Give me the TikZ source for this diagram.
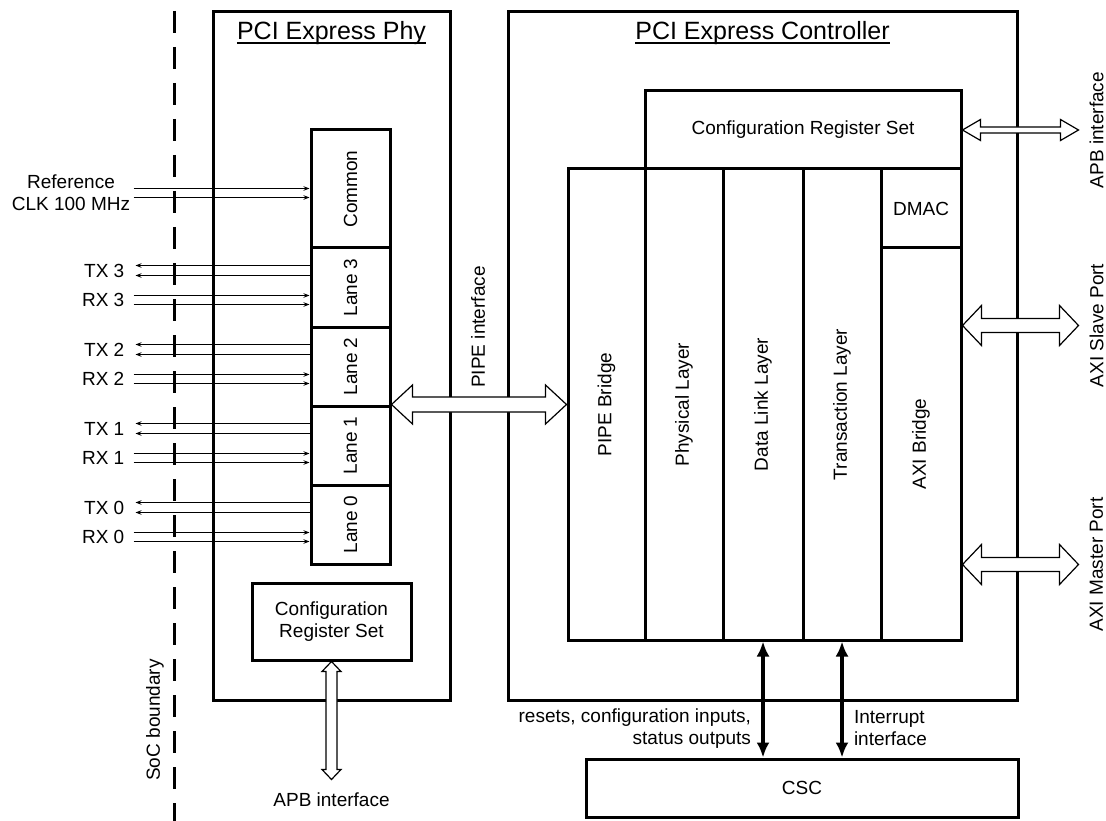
\documentclass[tikz,border=0pt]{standalone}
\usepackage{fontspec}
\setmainfont{Liberation Sans}
\usetikzlibrary{arrows.meta,calc}

\tikzset{
  box/.style={draw, line width=3pt, inner sep=0pt, align=center},
  sig/.style={line width=1.2pt, -{Stealth[length=6pt,width=4.5pt]}},
  sname/.style={anchor=east, inner sep=0pt},
  bus/.style={line width=4pt, {Latex[length=15pt,width=13pt]}-{Latex[length=15pt,width=13pt]}},
  hollow/.style={draw, line width=1.2pt, fill=white},
  ttl/.style={inner sep=0pt, anchor=base, font=\fontsize{25}{30}\selectfont},
  soc/.style={line width=3pt, dash pattern=on 22pt off 14pt, dash phase=25pt},
}

% hollow double arrows: start, end, half shaft, half head, head length
\newcommand\hollowh[5]{%
  \draw[hollow] (#1) -- ($(#1)+(#5,-#4)$) -- ($(#1)+(#5,-#3)$) -- ($(#2)+(-#5,-#3)$)
    -- ($(#2)+(-#5,-#4)$) -- (#2) -- ($(#2)+(-#5,#4)$) -- ($(#2)+(-#5,#3)$)
    -- ($(#1)+(#5,#3)$) -- ($(#1)+(#5,#4)$) -- cycle;}
\newcommand\hollowv[5]{%
  \draw[hollow] (#1) -- ($(#1)+(#4,#5)$) -- ($(#1)+(#3,#5)$) -- ($(#2)+(#3,-#5)$)
    -- ($(#2)+(#4,-#5)$) -- (#2) -- ($(#2)+(-#4,-#5)$) -- ($(#2)+(-#3,-#5)$)
    -- ($(#1)+(-#3,#5)$) -- ($(#1)+(-#4,#5)$) -- cycle;}

\begin{document}
\begin{tikzpicture}[x=1pt, y=-1pt, font=\fontsize{19}{22}\selectfont]
\useasboundingbox (0,0) rectangle (1106,821);

% SoC boundary
\draw[soc] (174,0) -- (174,821);
\node[rotate=90] (soclbl) at (155,720) {SoC boundary};

% PCI Express Phy
\node[box, minimum width=237, minimum height=688] (phy) at (331.5,356) {};
\node[ttl] (phyttl) at (331.5,40) {PCI Express Phy};
\draw[line width=1.5pt] ([yshift=-3pt]phyttl.base west) -- ([yshift=-3pt]phyttl.base east);

\node[box, minimum width=79, minimum height=118] (common) at (350.5,189) {\rotatebox{90}{Common}};
\foreach \n/\y in {3/287.5, 2/366.5, 1/445.5, 0/524.5}
  \node[box, minimum width=79, minimum height=79] (lane\n) at (350.5,\y) {\rotatebox{90}{Lane \n}};

\node[box, minimum width=159, minimum height=77] (phycfg) at (331.5,621.5) {Configuration\\Register Set};

% PCI Express Controller
\node[box, minimum width=509, minimum height=688] (ctrl) at (762.5,356) {};
\node[ttl] (ctrlttl) at (762.5,40) {PCI Express Controller};
\draw[line width=1.5pt] ([yshift=-3pt]ctrlttl.base west) -- ([yshift=-3pt]ctrlttl.base east);

\node[box, minimum width=316, minimum height=78] (ccfg) at (803,130) {Configuration Register Set};
\node[box, minimum width=77, minimum height=471] (pipe) at (606.5,404.5) {\rotatebox{90}{PIPE Bridge}};
\node[box, minimum width=78, minimum height=471] (phys) at (684,404.5) {\rotatebox{90}{Physical Layer}};
\node[box, minimum width=80, minimum height=471] (dll) at (763,404.5) {\rotatebox{90}{Data Link Layer}};
\node[box, minimum width=78, minimum height=471] (trans) at (842,404.5) {\rotatebox{90}{Transaction Layer}};
\node[box, minimum width=80, minimum height=79] (dmac) at (921,208.5) {DMAC};
\node[box, minimum width=80, minimum height=392] (axi) at (921,444) {\rotatebox{90}{AXI Bridge}};

% CSC
\node[box, minimum width=432, minimum height=58] (csc) at (802,788) {CSC};

% lane signals
\draw[sig] ($(common.north west)+(-176,60)$) -- ++(176,0);
\draw[sig] ($(common.north west)+(-176,69)$) -- ++(176,0);
\node[align=center, inner sep=0pt] (reflbl) at (71,193) {Reference\\CLK 100 MHz};
\foreach \n in {0,...,3}{
  \draw[sig] ($(lane\n.north west)+(0,19)$) -- ++(-174,0);
  \draw[sig] ($(lane\n.north west)+(0,29)$) -- ++(-174,0);
  \draw[sig] ($(lane\n.north west)+(-176,49)$) -- ++(176,0);
  \draw[sig] ($(lane\n.north west)+(-176,58)$) -- ++(176,0);
  \node[sname] (tx\n) at ($(lane\n.north west)+(-185,24)$) {TX \n};
  \node[sname] (rx\n) at ($(lane\n.north west)+(-185,53.5)$) {RX \n};
}

% PIPE interface
\coordinate (pipeL) at (pipe.west |- lane1.north east);
\hollowh{lane1.north east}{pipeL}{7.5}{19.5}{21}
\node[rotate=90] (pipelbl) at (478,327) {PIPE interface};

% Phy APB interface
\coordinate (apbphy) at ($(phycfg.south)+(0,118)$);
\hollowv{phycfg.south}{apbphy}{5.5}{9.5}{10}
\node (apbphylbl) at ($(apbphy)+(0,20)$) {APB interface};

% controller ports
\coordinate (apbB) at ($(ccfg.east)+(116,0)$);
\hollowh{ccfg.east}{apbB}{3}{10.5}{18}
\node[rotate=90] (apblbl) at ($(apbB)+(18,0)$) {APB interface};

\coordinate (slvA) at ($(axi.north east)+(0,79)$);
\coordinate (slvB) at ($(slvA)+(116,0)$);
\hollowh{slvA}{slvB}{7}{20}{19}
\node[rotate=90] (slvlbl) at ($(slvB)+(18,0)$) {AXI Slave Port};

\coordinate (mstA) at ($(axi.south east)+(0,-77)$);
\coordinate (mstB) at ($(mstA)+(116,0)$);
\hollowh{mstA}{mstB}{7}{20}{19}
\node[rotate=90] (mstlbl) at ($(mstB)+(18,0)$) {AXI Master Port};

% CSC connections
\draw[bus] (dll.south) -- node[pos=0.75, left=10pt, inner sep=0pt, align=right] (rstlbl)
  {resets, configuration inputs,\\status outputs} (dll.south |- csc.north);
\draw[bus] (trans.south) -- node[pos=0.75, right=10pt, inner sep=0pt, align=left] (intlbl)
  {Interrupt\\interface} (trans.south |- csc.north);

\end{tikzpicture}
\end{document}
